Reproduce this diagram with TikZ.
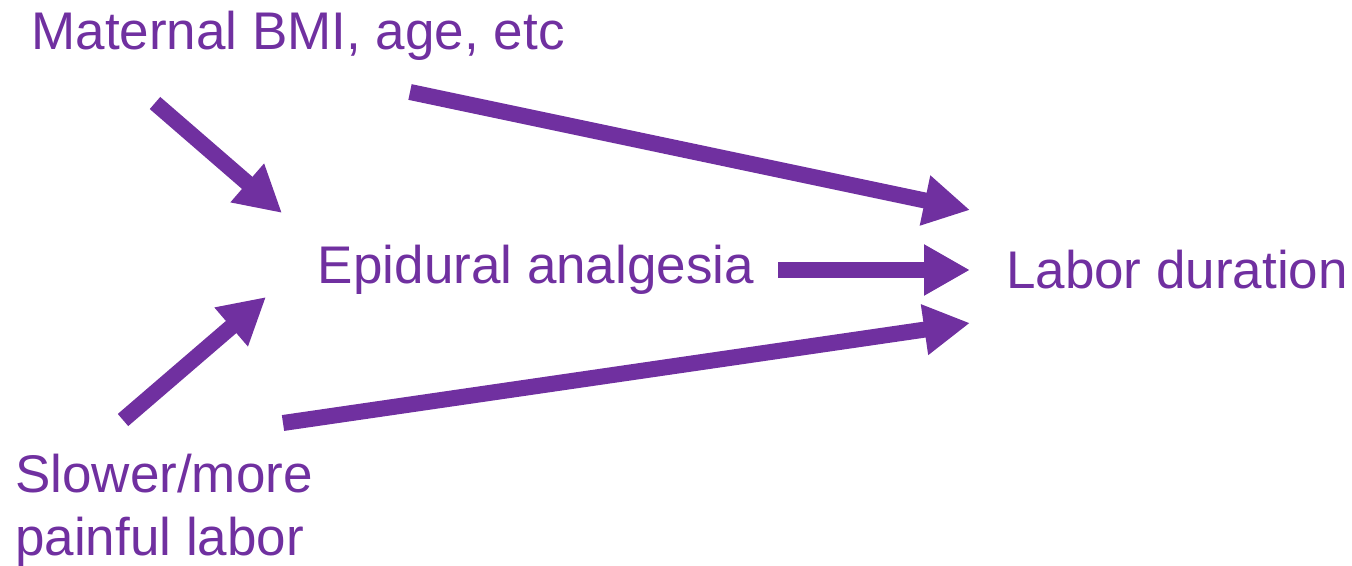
\documentclass[tikz,border=0pt]{standalone}
\usepackage{fontspec}
\setmainfont{Liberation Sans}
\usetikzlibrary{arrows.meta}
\definecolor{violet}{HTML}{7030A0}
\begin{document}
\begin{tikzpicture}[x=1pt,y=-1pt,
  label/.style={text=violet,font=\fontsize{53}{63}\selectfont,inner sep=0pt},
  fatarrow/.style={draw=violet,line width=16pt,
    -{Triangle[width=48pt,length=46pt]}}]
\useasboundingbox (0,0) rectangle (1352,565);
% variables
\node[label] (bmi) at (298,36) {Maternal BMI, age, etc};
\node[label] (epi) at (536,270) {Epidural analgesia};
\node[label] (dur) at (1177,270) {Labor duration};
\node[label,align=left,anchor=west] (slow) at (15,510) {Slower/more\\painful labor};
% arrow ends
\coordinate (bmiA) at (155,103);
\coordinate (bmiB) at (410,92);
\coordinate (epiIn1) at (282,213);
\coordinate (epiIn2) at (266,297);
\coordinate (epiOut) at (778,270);
\coordinate (durIn1) at (970,210);
\coordinate (durIn2) at (970,270);
\coordinate (durIn3) at (970,323);
\coordinate (slowA) at (123,420);
\coordinate (slowB) at (283,423);
% causal arrows
\draw[fatarrow] (bmiA) -- (epiIn1);
\draw[fatarrow] (bmiB) -- (durIn1);
\draw[fatarrow] (epiOut) -- (durIn2);
\draw[fatarrow] (slowA) -- (epiIn2);
\draw[fatarrow] (slowB) -- (durIn3);
\end{tikzpicture}
\end{document}
